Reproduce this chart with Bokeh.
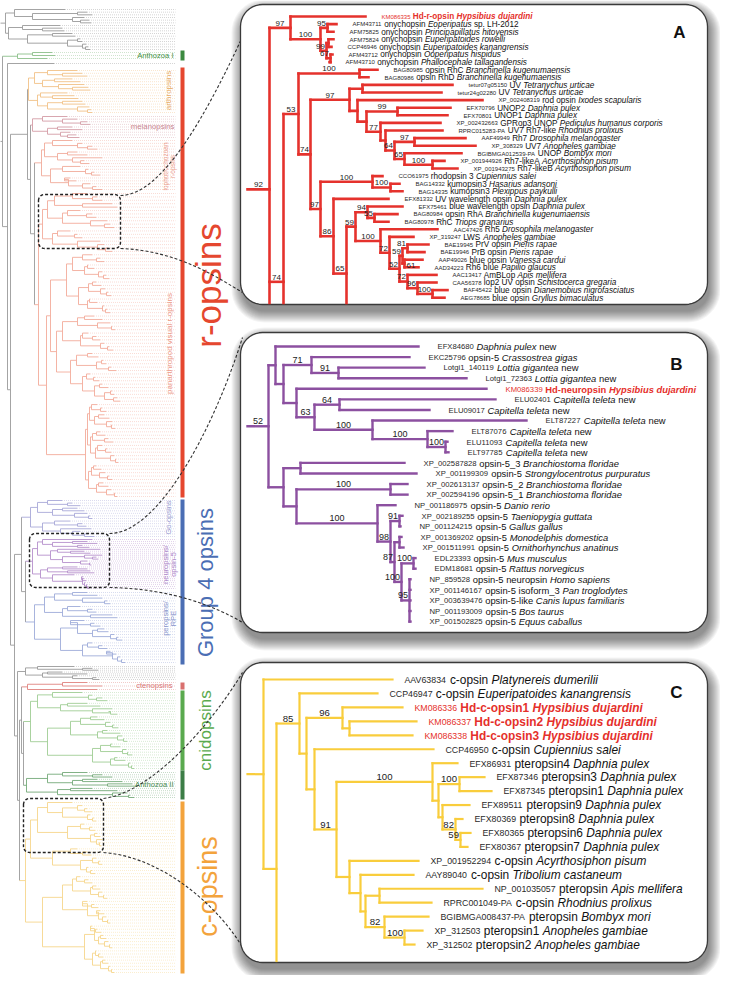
import math, re
from bokeh.plotting import figure
from bokeh.models import Range1d, ColumnDataSource
from bokeh.core.properties import value
from bokeh.embed import file_html
from bokeh.resources import INLINE

# ======================= DATA =======================
# ---- Panel A : r-opsins (bootstrap values as node names, depth after ':') ----
A_ACC = ["KM086335", "AFM43711", "AFM75825", "AFM75824", "CCP46946", "AFM43712", "AFM43710",
         "BAG80985", "BAG80986", "tetur07g05150", "tetur24g02280", "XP_002408319", "EFX70796",
         "EFX70801", "XP_002432663", "RPRC015283-PA", "AAF49949", "XP_308329", "BGIBMGA012539-PA",
         "XP_001944926", "XP_001943275", "CCO61975", "BAG14332", "BAG14335", "EFX81332", "EFX75461",
         "BAG80984", "BAG80978", "AAC47426", "XP_319247", "BAE19945", "BAE19946", "AAP49026",
         "AAD34223", "AAC13417", "CAA56378", "BAF45422", "AEG78685"]
A_NAME = ["Hd-r-opsin", "onychopsin", "onychopsin", "onychopsin", "onychopsin", "onychopsin", "onychopsin",
          "opsin RhC", "opsin RhD", "UV", "UV", "rod opsin", "UNOP2", "UNOP1", "GPRop3 UNOP",
          "UV7 Rh7-like", "Rh7", "UV7", "UNOP", "Rh7-likeA", "Rh7-likeB", "rhodopsin 3", "kumopsin3",
          "kumopsin3", "UV wavelength opsin", "blue wavelength opsin", "opsin RhA", "RhC", "Rh5", "LWS",
          "PrV opsin", "PrB opsin", "blue opsin", "Rh6 blue", "AmBLop", "lop2 UV opsin", "blue opsin",
          "blue opsin"]
A_SPEC = ["Hypsibius dujardini", "Eoperipatus", "Principapillatus hitoyensis", "Euperipatoides rowelli",
          "Euperipatoides kanangrensis", "Ooperipatus hispidus", "Phallocephale tallagandensis",
          "Branchinella kugenumaensis", "Branchinella kugenumaensis", "Tetranychus urticae",
          "Tetranychus urticae", "Ixodes scapularis", "Daphnia pulex", "Daphnia pulex",
          "Pediculus humanus corporis", "Rhodnius prolixus", "Drosophila melanogaster", "Anopheles gambiae",
          "Bombyx mori", "Acyrthosiphon pisum", "Acyrthosiphon pisum", "Cupiennius salei",
          "Hasarius adansoni", "Plexippus paykulli", "Daphnia pulex", "Daphnia pulex",
          "Branchinella kugenumaensis", "Triops granarius", "Drosophila melanogaster", "Anopheles gambiae",
          "Pieris rapae", "Pieris rapae", "Vanessa cardui", "Papilio glaucus", "Apis mellifera",
          "Schistocerca gregaria", "Dianemobius nigrofasciatus", "Gryllus bimaculatus"]
A_EXTRA = ["", "sp. LH-2012"] + [""] * 36
A_HD = [0]
A_TREE = ("((L0:118,((L1:89,L2:86)95:80,((L3:86,L4:84):81,(L5:85,L6:82)67:83)99:79)100:73)97:43,"
          "(((L7:130,L8:121)100:112,("
          "((L9:205,L10:194):115,(L11:235,((L12:203,L13:200)99:150,(L14:193,(L15:195,((L16:218,L17:228)97:167,"
          "(L18:214,(L19:197,L20:210)100:185)65:157)64:147):138)77:133):119):110)97:102,"
          "((L21:135,(L22:152,L23:155)100:143)100:125,(L24:141,(((L25:155,(L26:150,L27:141)55:127)94:120,"
          "(L28:190,(L29:166,(((L30:181,L31:177)81:160,(L32:175,L33:171)61:157)59:155,"
          "(L34:189,(L35:189,(L36:200,L37:197)100:185)96:170)72:160)52:152)72:142)100:133)59:108,P40:200)65:99)86:86)97:73"
          ")74:63)53:51,P57:200)74:36,P44:200)92:22")

# ---- Panel B : neuropsins / opsin-5 ----
B_ACC = ["EFX84680", "EKC25796", "Lotgi1_140119", "Lotgi1_72363", "KM086339", "ELU02401", "ELU09017",
         "ELT87227", "ELT87076", "ELU11093", "ELT97785", "XP_002587828", "XP_001199309", "XP_002613137",
         "XP_002594196", "NP_001186975", "XP_002189255", "NP_001124215", "XP_001369202", "XP_001511991",
         "EDL23393", "EDM18681", "NP_859528", "XP_001146167", "XP_003639476", "NP_001193009", "XP_001502825"]
B_NAME = ["", "opsin-5", "", "", "Hd-neuropsin", "", "", "", "", "", "", "opsin-5_3", "opsin-5", "opsin-5_2",
          "opsin-5_1", "opsin-5", "opsin-5", "opsin-5", "opsin-5", "opsin-5", "opsin-5", "opsin-5",
          "opsin-5 neuropsin", "opsin-5 isoform_3", "opsin-5-like", "opsin-5", "opsin-5"]
B_SPEC = ["Daphnia pulex", "Crassostrea gigas", "Lottia gigantea", "Lottia gigantea", "Hypsibius dujardini",
          "Capitella teleta", "Capitella teleta", "Capitella teleta", "Capitella teleta", "Capitella teleta",
          "Capitella teleta", "Branchiostoma floridae", "Strongylocentrotus purpuratus",
          "Branchiostoma floridae", "Branchiostoma floridae", "Danio rerio", "Taeniopygia guttata",
          "Gallus gallus", "Monodelphis domestica", "Ornithorhynchus anatinus", "Mus musculus",
          "Rattus norvegicus", "Homo sapiens", "Pan troglodytes", "Canis lupus familiaris", "Bos taurus",
          "Equus caballus"]
B_EXTRA = ["new", "", "new", "new", "", "new", "new", "new", "new", "new", "new"] + [""] * 16
B_HD = [4]
B_TREE = ("((L0:171,((L1:162,(L2:177,L3:219)91:91)71:64,(L4:239,((L5:248,L6:182)64:92,(L7:279,(L8:205,"
          "(L9:200,L10:201)100:198)100:180)100:125)63:67):49):36):28,"
          "((L11:157,L12:169):53,((L13:160,L14:160)100:143,(L15:148,((L16:155,L17:153)91:152,((L18:154,L19:156):152,"
          "((L20:168,L21:168)100:166,(L22:163,L23:163,L24:163,L25:163,L26:163)95:162)100:154)87:147)98:143)100:130):49):36)52:21")

# ---- Panel C : c-opsins ----
C_ACC = ["AAV63834", "CCP46947", "KM086336", "KM086337", "KM086338", "CCP46950", "EFX86931", "EFX87346",
         "EFX87345", "EFX89511", "EFX80369", "EFX80365", "EFX80367", "XP_001952294", "AAY89040",
         "NP_001035057", "RPRC001049-PA", "BGIBMGA008437-PA", "XP_312503", "XP_312502"]
C_NAME = ["c-opsin", "c-opsin", "Hd-c-opsin1", "Hd-c-opsin2", "Hd-c-opsin3", "c-opsin", "pteropsin4",
          "pteropsin3", "pteropsin1", "pteropsin9", "pteropsin8", "pteropsin6", "pteropsin7", "c-opsin",
          "c-opsin", "pteropsin", "c-opsin", "pteropsin", "pteropsin1", "pteropsin2"]
C_SPEC = ["Platynereis dumerilii", "Euperipatoides kanangrensis", "Hypsibius dujardini", "Hypsibius dujardini",
          "Hypsibius dujardini", "Cupiennius salei", "Daphnia pulex", "Daphnia pulex", "Daphnia pulex",
          "Daphnia pulex", "Daphnia pulex", "Daphnia pulex", "Daphnia pulex", "Acyrthosiphon pisum",
          "Tribolium castaneum", "Apis mellifera", "Rhodnius prolixus", "Bombyx mori", "Anopheles gambiae",
          "Anopheles gambiae"]
C_EXTRA = [""] * 20
C_HD = [2, 3, 4]
C_TREE = ("(L0:145,((L1:130,((L2:155,(L3:169,L4:165):102)96:95,(L5:186,((L6:210,((L7:237,L8:244)100:212,"
          "(L9:222,(L10:215,(L11:223,L12:220)59:213)82:208):195):191)100:185,(L13:171,(L14:166,((L15:235,L16:184):132,"
          "(L17:181,(L18:175,L19:167)100:157)82:137):118):113):102)91:89):67):59)85:52,P24:200):29):16")

# ---- Overview tree (leaf = tip position, "(...)n" = node position; names = sub-clades) ----
OV_CLADES = {
    "ROOT": ("(G1 (AN1 (L0 (ROPS (G4 (GB ((CTE (CNI AN2)31)29 COP)27)25)22)18)15)10)3", "#9a9a9a", None),
    "G1": ("((73 ((95 100)85 (92 (97 99)88)80)40)22 ((68 (70 72)50)30 ((80 83)60 ((88 90)85 (94 (96 98)93)90)75)35)16)13",
           "#9a9a9a", (17, 57)),
    "AN1": ("((60 63)40 55)25", "#8cc08a", (60, 66)),
    "L0": ("62", "#9a9a9a", (71, 71)),
    "ROPS": ("(ARTH (MEL (LOPH PANA)42)38)35", "#9a9a9a", None),
    "ARTH": ("(((85 (90 95)70)55 ((80 88)62 (92 (96 98)80)66)50)42 ((75 (82 86)60)48 ((90 93)70 (97 (99 100)95)85)55)45)36",
             "#f2c288", (78, 120)),
    "MEL": ("((75 (85 (95 98)88)70)50 ((80 90)65 (78 (84 87)75)68)55)40", "#d49ca6", (124, 145)),
    "LOPH": ("(((80 (90 (100 105)95)85)60 ((85 95)75 (110 (92 97)88)80)65)52 ((88 (96 (102 108)99)93)70 ((78 84)72 (98 (104 110)100)90)76)58)49",
             "#f1aa9a", (148, 197)),
    "PANA": ("(PAa ((PAb PAc)58 PAd)54)46", "#f3ab9b", (201, 504)),
    "PAa": ("((((95 (105 110)100)80 (120 125)90)62 ((88 (100 104)94)75 (115 (118 122)112)98)70)55 ((78 (85 90)82)65 (108 (112 (116 120)113)105)85)60)50",
            "#f3ab9b", None),
    "PAb": ("(((100 (108 112)104)90 ((96 102)95 (110 (114 117)111)106)92)80 (((104 109)100 (113 (116 119)114)108)96 ((98 105)97 (112 (115 118)113)110)95)86)74",
            "#f3ab9b", None),
    "PAc": ("((((102 110)92 (118 (120 123)119)105)85 ((96 (104 108)100)90 (112 (117 121)115)108)88)70 (((100 106)95 ((111 114)109 (119 124)116)104)84 ((98 (103 107)101)94 ((110 116)107 ((120 122)118 (125 128)121)112)102)90)78)64",
            "#f3ab9b", None),
    "PAd": ("((((105 (110 114)108)99 ((112 117)106 (120 (118 123)119)114)102)97 (((108 113)104 (116 121)112)100 ((110 (115 119)113)105 (122 (124 126)123)118)103)98)95 (((104 109)101 (113 (117 120)115)107)99 ((111 116)106 (119 (121 125)122)114)104)96)93",
            "#f3ab9b", None),
    "G4": ("(GO (NEU PER)33)29", "#9a9a9a", None),
    "GO": ("(((70 (80 88)75)55 ((85 92)70 (95 (98 100)96)82)60)45 ((78 (90 94)85)62 (99 (88 (96 102)92)80)68)50)38",
           "#a8a8d8", (508, 544)),
    "NEU": ("(((100 ((95 105)80 (90 97)85)60)50 ((108 (92 98)78)65 ((110 (104 106)100)92 (95 (98 99)97)88)70)58)45 (((85 95)70 (98 102)75)55 (82 ((91 (92 94)90)89 (93 (95 (96 97)95)94)92)90)60)48)40",
            "#b690cc", (547, 596)),
    "PER": ("((((95 105)80 (110 (115 118)112)90)62 ((88 (100 104)95)75 (120 125)98)70)52 (((92 (102 108)98)78 ((112 116)105 (122 (126 130)124)118)100)85 ((100 (110 115)106)95 ((118 124)114 (128 (130 133)129)125)120)90)68)42",
            "#9eabd9", (600, 670)),
    "GB": ("((82 (100 106)90)45 ((70 95)55 (85 (104 107)100)80)50)33", "#9a9a9a", (674, 687)),
    "CTE": ("((95 110)70 105)35", "#e0827e", (690, 697)),
    "CNI": ("(((90 (100 (110 115)104)96)60 ((95 108)75 (120 (116 125)118)100)68)45 ((((105 112)98 (118 (122 126)120)113)88 ((115 128)110 (130 (132 135)131)125)105)78 (((120 128)118 (134 (136 140)135)130)108 ((125 133)122 (138 (140 142)139)136)118)100)55)38",
            "#9fcd94", (700, 776)),
    "AN2": ("(((95 (110 120)100)70 ((105 130)90 (140 145)115)80)55 ((100 125)78 (135 (138 142)136)120)65)34",
            "#74a978", (780, 805)),
    "COP": ("((((80 ((90 (95 100)92)85 (98 (102 104)100)95)70)55 ((92 (100 103)97)88 ((105 108)102 (110 (106 109)107)104)98)75)45 ((85 (95 99)90)78 ((104 (108 110)106)100 (96 (100 103)98)94)88)60)38 ((((88 (96 100)92)84 ((104 108)100 (110 (112 115)111)106)98)80 ((95 (102 106)99)90 ((108 112)104 (114 (116 118)115)110)106)95)70 (((100 (105 109)103)98 ((111 114)108 (116 (118 120)117)112)106)102 ((104 (108 111)106)103 ((113 116)110 (118 (120 122)119)116)108)100)92)50)33",
            "#f6d68c", (810, 980)),
}

BAR_NAMES = ["Anthozoa I", "r-opsins", "Group 4 opsins", "ctenopsins", "cnidopsins", "Anthozoa II", "c-opsins"]
BAR_Y0 = [58, 75, 507, 690, 698, 778, 809]
BAR_Y1 = [68, 505, 672, 697, 778, 807, 981]
BAR_COLORS = ["#3c8a40", "#e5472f", "#4b6eb4", "#d9706e", "#5aaa4e", "#3c7d46", "#f3a33c"]

# ======================= HELPERS =======================
FONT = value("Liberation Sans")
RED = "#e5302b"

def _mk(chars, widths):
    return dict(zip(chars, widths))
_UP = "ABCDEFGHIJKLMNOPQRSTUVWXYZ"
_LO = "abcdefghijklmnopqrstuvwxyz"
REG_W = _mk(_UP, [667,667,722,722,667,611,778,722,278,500,667,556,833,722,778,667,778,722,667,611,722,667,944,667,667,611])
REG_W.update(_mk(_LO, [556,556,500,556,556,278,556,556,222,222,500,222,833,556,556,556,556,333,500,278,556,500,722,500,500,500]))
REG_W.update({" ": 278, "-": 333, ".": 278, "_": 556, "/": 278})
BOLD_W = _mk(_UP, [722,722,722,722,667,611,778,722,278,556,722,611,833,722,778,667,778,722,667,611,722,667,944,667,667,611])
BOLD_W.update(_mk(_LO, [556,611,556,611,556,333,611,611,278,278,556,278,889,611,611,611,611,389,556,333,611,556,778,556,556,500]))
BOLD_W.update({" ": 278, "-": 333, ".": 278, "_": 556, "/": 278})

def tw(s, size, bold=False):
    t = BOLD_W if bold else REG_W
    return sum(t.get(ch, 556) for ch in s) * size / 1000.0

def parse_newick(s):
    s = re.sub(r"\s+", "", s)
    pos = [0]
    def node():
        n = {"ch": [], "name": "", "d": 0.0}
        if s[pos[0]] == "(":
            pos[0] += 1
            while True:
                n["ch"].append(node())
                c = s[pos[0]]
                pos[0] += 1
                if c == ")":
                    break
        m = re.match(r"([^,():]*)(?::([-\d.]+))?", s[pos[0]:])
        n["name"] = m.group(1)
        if m.group(2):
            n["d"] = float(m.group(2))
        pos[0] += m.end()
        return n
    return node()

def rrect(l, t, r, b, rad, n=10):
    xs, ys = [], []
    for (cx, cy, a0) in [(l + rad, t + rad, math.pi), (r - rad, t + rad, 1.5 * math.pi),
                         (r - rad, b - rad, 0.0), (l + rad, b - rad, 0.5 * math.pi)]:
        for k in range(n + 1):
            a = a0 + 0.5 * math.pi * k / n
            xs.append(cx + rad * math.cos(a))
            ys.append(cy + rad * math.sin(a))
    return xs, ys

TEXTS = {}
def add_text(key, x, y, t):
    d = TEXTS.setdefault(key, {"x": [], "y": [], "t": []})
    d["x"].append(x); d["y"].append(y); d["t"].append(t)

def _seg(d, x0, y0, x1, y1, c):
    d["x0"].append(x0); d["y0"].append(y0); d["x1"].append(x1); d["y1"].append(y1); d["c"].append(c)

# ======================= FIGURE =======================
p = figure(width=720, height=975, x_range=Range1d(8, 728), y_range=Range1d(983, 8),
           output_backend="svg", toolbar_location=None, min_border=0,
           x_axis_location=None, y_axis_location=None)
p.grid.visible = False
p.outline_line_color = None
p.background_fill_color = "white"
p.border_fill_color = "white"

# ---------------- overview tree ----------------
TOK = re.compile(r"\(|\)|[A-Za-z_][A-Za-z0-9_]*|\d+(?:\.\d+)?")

def build_ov(name, group):
    s, col, yr = OV_CLADES[name]
    g = name if yr else group
    toks = TOK.findall(s)
    i = [0]
    def node():
        t = toks[i[0]]; i[0] += 1
        if t == "(":
            ch = []
            while toks[i[0]] != ")":
                ch.append(node())
            i[0] += 1
            x = float(toks[i[0]]); i[0] += 1
            return {"ch": ch, "x": x, "c": col, "g": g}
        if t[0].isalpha():
            return build_ov(t, g)
        return {"ch": [], "x": float(t), "c": col, "g": g}
    return node()

ov_root = build_ov("ROOT", None)
ov_leaves = []
def _collect(n):
    if not n["ch"]:
        ov_leaves.append(n)
    for c in n["ch"]:
        _collect(c)
_collect(ov_root)
_groups = {}
for lf in ov_leaves:
    _groups.setdefault(lf["g"], []).append(lf)
for g, lst in _groups.items():
    y0, y1 = OV_CLADES[g][2]
    for k, lf in enumerate(lst):
        lf["y"] = (y0 + y1) / 2 if len(lst) == 1 else y0 + (y1 - y0) * k / (len(lst) - 1)
def _sety(n):
    if n["ch"]:
        for c in n["ch"]:
            _sety(c)
        n["y"] = (n["ch"][0]["y"] + n["ch"][-1]["y"]) / 2
_sety(ov_root)

ovs = {"x0": [], "y0": [], "x1": [], "y1": [], "c": []}
def _ovsegs(n):
    if n["ch"]:
        _seg(ovs, n["x"], n["ch"][0]["y"], n["x"], n["ch"][-1]["y"], n["c"])
        for c in n["ch"]:
            _seg(ovs, n["x"], c["y"], c["x"], c["y"], c["c"])
            _ovsegs(c)
_seg(ovs, 0, ov_root["y"], ov_root["x"], ov_root["y"], ov_root["c"])
_ovsegs(ov_root)

lead = {"x0": [], "y0": [], "x1": [], "y1": [], "c": []}
for lf in ov_leaves:
    _seg(lead, lf["x"] + 1.5, lf["y"], 183, lf["y"], lf["c"])
p.segment(x0="x0", y0="y0", x1="x1", y1="y1", line_color="c", line_width=0.7, line_alpha=0.6,
          line_dash="1 1", source=ColumnDataSource(lead))
p.segment(x0="x0", y0="y0", x1="x1", y1="y1", line_color="c", line_width=0.9,
          source=ColumnDataSource(ovs))

# clade bars
p.quad(left=188, right=192, top=BAR_Y0, bottom=BAR_Y1, fill_color=BAR_COLORS, line_color=None)

# clade labels in overview
def small(x, y, t, col, size, angle=0.0, align="right", base="middle"):
    p.text(x=[x], y=[y], text=[t], angle=angle, text_font=FONT, text_font_size=size,
           text_color=col, text_align=align, text_baseline=base)
HALF = math.pi / 2
small(181, 63, "Anthozoa I", "#3f8f3f", "7.6px")
small(176, 98, "arthropsins", "#e7ad68", "8px", HALF, "center", "alphabetic")
small(182, 134, "melanopsins", "#c98590", "7.8px")
small(173, 174, "lophotrochozoan", "#eb9d8b", "6.5px", HALF, "center", "alphabetic")
small(180, 174, "r-opsins", "#eb9d8b", "6.5px", HALF, "center", "alphabetic")
small(177, 351, "panarthropod visual r-opsins", "#ec9a88", "8px", HALF, "center", "alphabetic")
small(176, 525, "Go-opsins", "#9d9fd2", "7.5px", HALF, "center", "alphabetic")
small(173, 572, "neuropsins/", "#ad87c9", "7.5px", HALF, "center", "alphabetic")
small(181, 572, "opsin-5", "#ad87c9", "7.5px", HALF, "center", "alphabetic")
small(173, 626, "peropsins/", "#8895cc", "7.5px", HALF, "center", "alphabetic")
small(181, 626, "RPE", "#8895cc", "7.5px", HALF, "center", "alphabetic")
small(180, 693, "ctenopsins", "#d77070", "7.6px")
small(181, 792, "Anthozoa II", "#4a8a4f", "7.6px")

# big group labels
small(216, 293, "r-opsins", "#e5472f", "35px", HALF, "center", "alphabetic")
small(213, 590, "Group 4 opsins", "#4b6eb4", "22px", HALF, "center", "alphabetic")
small(213, 738, "cnidopsins", "#5aaa4e", "17px", HALF, "center", "alphabetic")
small(215, 894, "c-opsins", "#f3a33c", "27px", HALF, "center", "alphabetic")

# dashed selection boxes
for (l, t, r, b) in [(46, 202, 128, 256), (37, 541, 117, 595), (31, 806, 111, 860)]:
    xs, ys = rrect(l, t, r, b, 6)
    p.patches(xs=[xs], ys=[ys], fill_color=None, line_color="#222222", line_width=1.4, line_dash="3 2")

# connectors
CON = [((128, 203), (170, 203), (215, 120), (252, 40)),
       ((128, 256), (185, 258), (225, 285), (250, 300)),
       ((117, 541), (165, 541), (220, 440), (250, 345)),
       ((117, 595), (180, 596), (225, 615), (250, 630)),
       ((111, 806), (160, 800), (220, 730), (250, 680)),
       ((111, 860), (175, 865), (230, 920), (250, 955))]
p.bezier(x0=[c[0][0] for c in CON], y0=[c[0][1] for c in CON], x1=[c[3][0] for c in CON],
         y1=[c[3][1] for c in CON], cx0=[c[1][0] for c in CON], cy0=[c[1][1] for c in CON],
         cx1=[c[2][0] for c in CON], cy1=[c[2][1] for c in CON],
         line_color="#333333", line_width=1.1, line_dash="3 2")

# ---------------- panels ----------------
PANELS = [
    dict(tree=A_TREE, acc=A_ACC, name=A_NAME, spec=A_SPEC, extra=A_EXTRA, hd=A_HD, box=(248, 12, 715, 312),
         x0=255, y0=24.0, dy=7.6, gap=16, fa=6.0, fn=8.2, fs=8.0, col="#e5322d", lw=2.6, letter="A",
         lpos=(687, 40)),
    dict(tree=B_TREE, acc=B_ACC, name=B_NAME, spec=B_SPEC, extra=B_EXTRA, hd=B_HD, box=(248, 340, 715, 640),
         x0=255, y0=354.0, dy=10.58, gap=19, fa=7.7, fn=9.4, fs=9.0, col="#8c50a0", lw=2.4, letter="B",
         lpos=(684, 372)),
    dict(tree=C_TREE, acc=C_ACC, name=C_NAME, spec=C_SPEC, extra=C_EXTRA, hd=C_HD, box=(248, 670, 715, 970),
         x0=255, y0=687.0, dy=13.95, gap=12, fa=8.8, fn=11.9, fs=9.6, col="#f9cd3c", lw=2.2, letter="C",
         lpos=(684, 700)),
]

for P in PANELS:
    l, t, r, b = P["box"]
    for k in range(12):
        xs, ys = rrect(l - k + 2, t - k + 6, r + k + 2, b + k + 7, 22 + k)
        p.patches(xs=[xs], ys=[ys], fill_color="black", fill_alpha=0.045, line_color=None)
    xs, ys = rrect(l, t, r, b, 22)
    p.patches(xs=[xs], ys=[ys], fill_color="white", line_color="#3a3a3a", line_width=1.3)

    root = parse_newick(P["tree"])
    x0, y0, dy = P["x0"], P["y0"], P["dy"]
    leaves = {}
    def place(n, px):
        n["x"] = x0 + n["d"]
        n["px"] = px
        if n["ch"]:
            for c in n["ch"]:
                place(c, n["x"])
            n["y"] = (n["ch"][0]["y"] + n["ch"][-1]["y"]) / 2
        else:
            row = int(n["name"][1:])
            n["y"] = y0 + row * dy
            if n["name"][0] == "L":
                leaves[row] = n["x"]
    place(root, x0)
    ytop, ybot = t + 1.5, b - 1.5
    fs = P["fs"]
    hgt = fs * 0.75
    segs = {"x0": [], "y0": [], "x1": [], "y1": [], "c": []}
    sup = {"center": {"x": [], "y": [], "t": []}, "right": {"x": [], "y": [], "t": []},
           "left": {"x": [], "y": [], "t": []}}
    placed = []
    def free(bx):
        for q in placed:
            if bx[0] < q[1] - 0.5 and q[0] < bx[1] - 0.5 and bx[2] < q[3] - 0.5 and q[2] < bx[3] - 0.5:
                return False
        return True
    def put(kind, x, y, txt, bx):
        placed.append(bx)
        sup[kind]["x"].append(x); sup[kind]["y"].append(y); sup[kind]["t"].append(txt)
    def walk(n):
        if ytop <= n["y"] <= ybot:
            _seg(segs, n["px"], n["y"], n["x"], n["y"], P["col"])
            if n["ch"] and n["name"]:
                w = tw(n["name"], fs)
                by = n["y"] - P["lw"] / 2 - 0.8
                if n["x"] - n["px"] >= w + 4:
                    cx = (n["px"] + n["x"]) / 2
                    put("center", cx, by, n["name"], (cx - w / 2, cx + w / 2, by - hgt, by))
                else:
                    bx = (n["x"] - 1.5 - w, n["x"] - 1.5, by - hgt, by)
                    if free(bx):
                        put("right", n["x"] - 1.5, by, n["name"], bx)
                    else:
                        yb = n["y"] + hgt / 2 + 1.0
                        put("left", n["x"] + 2.0, yb, n["name"], (n["x"] + 2, n["x"] + 2 + w, yb - hgt, yb))
        if n["ch"]:
            ya = max(ytop, min(ybot, n["ch"][0]["y"]))
            yb2 = max(ytop, min(ybot, n["ch"][-1]["y"]))
            if yb2 > ya:
                _seg(segs, n["x"], ya, n["x"], yb2, P["col"])
            for c in n["ch"]:
                walk(c)
    walk(root)
    p.segment(x0="x0", y0="y0", x1="x1", y1="y1", line_color="c", line_width=P["lw"], line_cap="square",
              source=ColumnDataSource(segs))
    for al, d in sup.items():
        p.text(x="x", y="y", text="t", source=ColumnDataSource(d), text_font=FONT,
               text_font_size="%gpx" % fs, text_color="#222222", text_align=al,
               text_baseline="bottom")

    fa, fn = P["fa"], P["fn"]
    for i in range(len(P["acc"])):
        red = i in P["hd"]
        x = leaves[i] + P["gap"]
        y = y0 + i * dy + 0.3
        add_text((fa, "normal", RED if red else "#2a2a2a"), x, y, P["acc"][i])
        x += tw(P["acc"][i], fa) + tw(" ", fn)
        if P["name"][i]:
            add_text((fn, "bold" if red else "normal", RED if red else "#111111"), x, y, P["name"][i])
            x += tw(P["name"][i] + " ", fn, red)
        if P["spec"][i]:
            add_text((fn, "bold italic" if red else "italic", RED if red else "#111111"), x, y, P["spec"][i])
            x += tw(P["spec"][i] + " ", fn, red)
        if P["extra"][i]:
            add_text((fn, "normal", "#111111"), x, y, P["extra"][i])
    p.text(x=[P["lpos"][0]], y=[P["lpos"][1]], text=[P["letter"]], text_font=FONT, text_font_size="17px",
           text_font_style="bold", text_color="#111111", text_align="center", text_baseline="middle")

for (size, style, col), d in TEXTS.items():
    p.text(x="x", y="y", text="t", source=ColumnDataSource(d), text_font=FONT,
           text_font_size="%gpx" % size, text_font_style=style, text_color=col,
           text_align="left", text_baseline="middle")

open("out.html", "w").write(file_html(p, INLINE))
